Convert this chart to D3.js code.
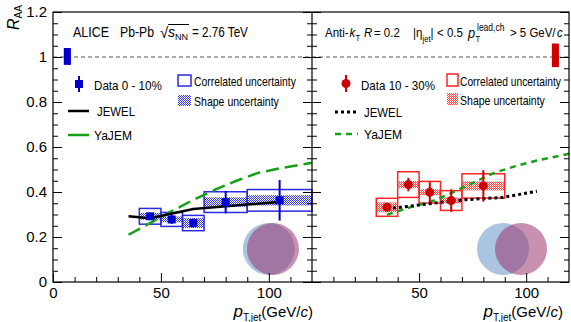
<!DOCTYPE html>
<html>
<head>
<meta charset="utf-8">
<script src="https://cdn.jsdelivr.net/npm/d3@7"></script>
<style>
  html, body { margin: 0; padding: 0; background: #fff; }
  svg { display: block; font-family: "Liberation Sans", Arial, Helvetica, sans-serif; }
</style>
</head>
<body>
<svg id="chart" width="571" height="322"></svg>
<script>
// ---- 0-10% centrality (blue) ----
const centralPt    = [45, 55, 65, 80, 105];
const centralLo    = [40, 50, 60, 70, 90];
const centralHi    = [50, 60, 70, 90, 120];
const centralRaa   = [0.292, 0.278, 0.262, 0.355, 0.363];
const centralStat  = [0.015, 0.02, 0.02, 0.05, 0.09];
const centralCorr  = [0.035, 0.031, 0.034, 0.046, 0.048];
const centralShape = [0.015, 0.013, 0.022, 0.021, 0.023];

// ---- 10-30% centrality (red) ----
const periPt    = [35, 45, 55, 65, 80];
const periLo    = [30, 40, 50, 60, 70];
const periHi    = [40, 50, 60, 70, 90];
const periRaa   = [0.332, 0.433, 0.399, 0.362, 0.427];
const periStat  = [0.01, 0.03, 0.045, 0.05, 0.07];
const periCorr  = [0.04, 0.057, 0.048, 0.044, 0.054];
const periShape = [0.022, 0.016, 0.013, 0.013, 0.02];

// ---- model curves ----
const jewelCentralX = [35, 45, 65, 106];
const jewelCentralY = [0.292, 0.283, 0.324, 0.357];
const yajemCentralX = [35, 45, 55, 65, 75, 85, 95, 105, 120];
const yajemCentralY = [0.21, 0.262, 0.315, 0.365, 0.41, 0.45, 0.485, 0.505, 0.53];
const jewelPeriX = [35, 45, 60, 72, 89, 105];
const jewelPeriY = [0.326, 0.336, 0.354, 0.366, 0.376, 0.403];
const yajemPeriX = [35, 45, 55, 65, 75, 85, 95, 105, 120];
const yajemPeriY = [0.299, 0.33, 0.355, 0.395, 0.44, 0.485, 0.515, 0.54, 0.57];

// ---- normalisation uncertainty boxes at R_AA = 1 ----
const normCentralX = [5, 8.3];
const normCentralY = [0.965, 1.04];
const normPeriX = [112, 115.3];
const normPeriY = [0.955, 1.06];

// ---- axis ticks ----
const yMajor = [0, 0.2, 0.4, 0.6, 0.8, 1.0, 1.2];
const yMinor = [0.05, 0.1, 0.15, 0.25, 0.3, 0.35, 0.45, 0.5, 0.55, 0.65, 0.7, 0.75, 0.85, 0.9, 0.95, 1.05, 1.1, 1.15];
const xMajorLeft = [0, 50, 100];
const xMajorRight = [50, 100];
const xMinor = [10, 20, 30, 40, 60, 70, 80, 90, 110];

// ---- nucleus overlap icons (centres in data units) ----
const iconCentralX = [100, 101.9];
const iconPeriX = [89.2, 97.6];
const iconY = 0.147;

const svg = d3.select("#chart");
const plotTop = 12, plotBottom = 282, xl0 = 53, xmid = 312, xr1 = 569;
const xL = d3.scaleLinear().domain([0, 120]).range([xl0, xmid]);
const xR = d3.scaleLinear().domain([0, 120]).range([xmid, xr1]);
const y = d3.scaleLinear().domain([0, 1.2]).range([plotBottom, plotTop]);

const BLUE = "#0000cc", BLUE_BOX = "#2a2ae0", BLUE_HATCH = "#3a3ad8";
const RED = "#cc0000", RED_BOX = "#ff2424", RED_HATCH = "#ff4a4a";
const GREEN = "#16a016";

// checkered fills for the shape uncertainty
const defs = svg.append("defs");
function checker(id, color) {
  const p = defs.append("pattern").attr("id", id).attr("patternUnits", "userSpaceOnUse")
    .attr("width", 2).attr("height", 2);
  p.append("rect").attr("width", 2).attr("height", 2).attr("fill", "#fff").attr("opacity", 0.35);
  p.append("rect").attr("x", 0).attr("y", 0).attr("width", 1).attr("height", 1).attr("fill", color);
  p.append("rect").attr("x", 1).attr("y", 1).attr("width", 1).attr("height", 1).attr("fill", color);
}
checker("hatchBlue", BLUE_HATCH);
checker("hatchRed", RED_HATCH);

// nucleus overlap icons
function icons(x, cx) {
  const g = svg.append("g");
  g.append("circle").attr("cx", x(cx[0])).attr("cy", y(iconY)).attr("r", 26)
    .attr("fill", "rgb(170,196,226)");
  g.append("circle").attr("cx", x(cx[1])).attr("cy", y(iconY)).attr("r", 26)
    .attr("fill", "rgb(155,55,109)").attr("fill-opacity", 0.55);
}
icons(xL, iconCentralX);
icons(xR, iconPeriX);

// reference line at R_AA = 1
svg.append("line").attr("x1", xl0).attr("x2", xr1).attr("y1", y(1)).attr("y2", y(1))
  .attr("stroke", "#555").attr("stroke-width", 1).attr("stroke-dasharray", "4,3");

// normalisation boxes
svg.append("rect").attr("x", xL(normCentralX[0])).attr("width", xL(normCentralX[1]) - xL(normCentralX[0]))
  .attr("y", y(normCentralY[1])).attr("height", y(normCentralY[0]) - y(normCentralY[1])).attr("fill", BLUE);
svg.append("rect").attr("x", xR(normPeriX[0])).attr("width", xR(normPeriX[1]) - xR(normPeriX[0]))
  .attr("y", y(normPeriY[1])).attr("height", y(normPeriY[0]) - y(normPeriY[1])).attr("fill", RED);

// uncertainty boxes
function drawData(x, lo, hi, raa, corr, shape, boxColor, hatch) {
  const idx = d3.range(raa.length);
  const g = svg.append("g");
  g.selectAll(".shape").data(idx).join("rect")
    .attr("x", i => x(lo[i])).attr("width", i => x(hi[i]) - x(lo[i]))
    .attr("y", i => y(raa[i] + shape[i])).attr("height", i => y(raa[i] - shape[i]) - y(raa[i] + shape[i]))
    .attr("fill", `url(#${hatch})`);
  g.selectAll(".corr").data(idx).join("rect")
    .attr("x", i => x(lo[i])).attr("width", i => x(hi[i]) - x(lo[i]))
    .attr("y", i => y(raa[i] + corr[i])).attr("height", i => y(raa[i] - corr[i]) - y(raa[i] + corr[i]))
    .attr("fill", "none").attr("stroke", boxColor).attr("stroke-width", 1.5);
}
// markers with statistical error bars
function drawMarkers(x, pt, raa, stat, color, square) {
  const idx = d3.range(pt.length);
  const g = svg.append("g");
  g.selectAll("line").data(idx).join("line")
    .attr("x1", i => x(pt[i])).attr("x2", i => x(pt[i]))
    .attr("y1", i => y(raa[i] + stat[i])).attr("y2", i => y(raa[i] - stat[i]))
    .attr("stroke", color).attr("stroke-width", 2);
  if (square) {
    g.selectAll("rect").data(idx).join("rect")
      .attr("x", i => x(pt[i]) - 4).attr("y", i => y(raa[i]) - 4)
      .attr("width", 8).attr("height", 8).attr("fill", color);
  } else {
    g.selectAll("circle").data(idx).join("circle")
      .attr("cx", i => x(pt[i])).attr("cy", i => y(raa[i])).attr("r", 4.5).attr("fill", color);
  }
}
function curve(x, xs, ys, color, width, dash) {
  const line = d3.line().x(d => x(d[0])).y(d => y(d[1]));
  svg.append("path").datum(xs.map((v, i) => [v, ys[i]])).attr("d", line)
    .attr("fill", "none").attr("stroke", color).attr("stroke-width", width)
    .attr("stroke-dasharray", dash);
}

drawData(xL, centralLo, centralHi, centralRaa, centralCorr, centralShape, BLUE_BOX, "hatchBlue");
drawData(xR, periLo, periHi, periRaa, periCorr, periShape, RED_BOX, "hatchRed");
curve(xL, yajemCentralX, yajemCentralY, GREEN, 2.5, "13,6");
curve(xL, jewelCentralX, jewelCentralY, "#000", 2.5, null);
curve(xR, yajemPeriX, yajemPeriY, GREEN, 2.5, "6,5");
curve(xR, jewelPeriX, jewelPeriY, "#000", 3, "3,3");
drawMarkers(xL, centralPt, centralRaa, centralStat, BLUE, true);
drawMarkers(xR, periPt, periRaa, periStat, RED, false);

// axes
function styleAxis(g) {
  g.select(".domain").remove();
  g.selectAll("line").attr("stroke", "#000").attr("stroke-width", 1);
  g.selectAll("text").attr("font-size", 15).attr("fill", "#000")
    .attr("font-family", "'Liberation Sans', Arial, sans-serif");
}
const yFmt = d => d === 0 ? "0" : (d === 1 ? "1" : d.toFixed(1));
function yAxes(xPos, side, labels) {
  const maj = (side === "left" ? d3.axisLeft(y) : d3.axisRight(y)).tickValues(yMajor).tickSize(-9)
    .tickPadding(6).tickFormat(labels ? yFmt : () => "");
  svg.append("g").attr("transform", `translate(${xPos},0)`).call(maj).call(styleAxis);
  const mnr = (side === "left" ? d3.axisLeft(y) : d3.axisRight(y)).tickValues(yMinor).tickSize(-5).tickFormat(() => "");
  svg.append("g").attr("transform", `translate(${xPos},0)`).call(mnr).call(styleAxis);
}
yAxes(xl0, "left", true);
yAxes(xmid, "right", false);
yAxes(xmid, "left", false);
yAxes(xr1, "right", false);

function xAxes(x, majors) {
  const maj = d3.axisBottom(x).tickValues(majors).tickSize(-9).tickPadding(5).tickFormat(d3.format("d"));
  svg.append("g").attr("transform", `translate(0,${plotBottom})`).call(maj).call(styleAxis);
  const mnr = d3.axisBottom(x).tickValues(xMinor).tickSize(-5).tickFormat(() => "");
  svg.append("g").attr("transform", `translate(0,${plotBottom})`).call(mnr).call(styleAxis);
}
xAxes(xL, xMajorLeft);
xAxes(xR, xMajorRight);

// frame
svg.append("rect").attr("x", xl0).attr("y", plotTop).attr("width", xr1 - xl0).attr("height", plotBottom - plotTop)
  .attr("fill", "none").attr("stroke", "#000").attr("stroke-width", 1.2);
svg.append("line").attr("x1", xmid).attr("x2", xmid).attr("y1", plotTop).attr("y2", plotBottom)
  .attr("stroke", "#000").attr("stroke-width", 1.2);

// text helper: condensed text squeezed horizontally to a given width
function txt(x, yy, s, o = {}) {
  const g = svg.append("g");
  const t = g.append("text").attr("x", 0).attr("y", 0).text(s)
    .attr("font-size", o.size || 13).attr("fill", "#000");
  if (o.italic) t.attr("font-style", "italic");
  let sx = 1;
  if (o.w) sx = o.w / t.node().getComputedTextLength();
  g.attr("transform", `translate(${x},${yy}) scale(${sx},1)`);
  return t;
}

// axis titles
const ytitle = svg.append("text").attr("transform", "translate(19,30) rotate(-90)").attr("font-size", 16);
ytitle.append("tspan").attr("font-style", "italic").text("R");
ytitle.append("tspan").attr("font-size", 10).attr("dy", 3).text("AA");

function xTitle(xEnd) {
  const t = svg.append("text").attr("x", xEnd).attr("y", 317).attr("text-anchor", "end").attr("font-size", 15);
  t.append("tspan").attr("font-style", "italic").attr("font-size", 17).text("p");
  t.append("tspan").attr("font-size", 10).attr("dy", 4).text("T,jet");
  t.append("tspan").attr("dy", -4).text("(GeV/");
  t.append("tspan").attr("font-style", "italic").text("c");
  t.append("tspan").text(")");
}
xTitle(313);
xTitle(563);

// header, left panel
txt(73, 37, "ALICE", { size: 14, w: 36 });
txt(120, 37, "Pb-Pb", { size: 14, w: 34 });
txt(160, 38, "\u221A", { size: 15 });
svg.append("line").attr("x1", 168).attr("x2", 189).attr("y1", 24.5).attr("y2", 24.5).attr("stroke", "#000").attr("stroke-width", 1);
txt(168, 37, "s", { size: 14, italic: true });
txt(175, 40, "NN", { size: 9, w: 13 });
txt(192, 37, "= 2.76 TeV", { size: 14, w: 56 });

// header, right panel: one condensed text line, pieces placed at absolute positions
const SX = 0.85, hx0 = 325;
const hdr = svg.append("g").attr("transform", `translate(${hx0},0) scale(${SX},1)`)
  .append("text").attr("font-size", 13.5).attr("fill", "#000");
const pieces = [
  { x: 325, y: 37, s: "Anti-" },
  { x: 349.5, y: 37, s: "k", it: true },
  { x: 355.5, y: 41, s: "T", size: 9 },
  { x: 364, y: 37, s: "R", it: true },
  { x: 374, y: 37, s: "= 0.2" },
  { x: 413, y: 37, s: "|" },
  { x: 416, y: 37, s: "\u03B7" },
  { x: 422.5, y: 42, s: "jet", size: 9 },
  { x: 430.5, y: 37, s: "|" },
  { x: 437, y: 37, s: "< 0.5" },
  { x: 468, y: 38, s: "p", it: true, size: 15 },
  { x: 475.5, y: 42, s: "T", size: 9 },
  { x: 477, y: 31, s: "lead,ch", size: 10 },
  { x: 510, y: 37, s: "> 5 GeV/" },
  { x: 557, y: 37, s: "c", it: true }
];
pieces.forEach(p => {
  const t = hdr.append("tspan").attr("x", (p.x - hx0) / SX).attr("y", p.y).text(p.s);
  if (p.it) t.attr("font-style", "italic");
  if (p.size) t.attr("font-size", p.size);
});

// legend, left panel
svg.append("line").attr("x1", 79).attr("x2", 79).attr("y1", 76).attr("y2", 92).attr("stroke", BLUE).attr("stroke-width", 2);
svg.append("rect").attr("x", 75).attr("y", 80).attr("width", 8).attr("height", 8).attr("fill", BLUE);
txt(94, 90, "Data 0 - 10%", { size: 13, w: 68 });
svg.append("rect").attr("x", 178).attr("y", 75).attr("width", 13).attr("height", 11)
  .attr("fill", "none").attr("stroke", BLUE_BOX).attr("stroke-width", 1.5);
txt(194, 86, "Correlated uncertainty", { size: 12, w: 102 });
svg.append("rect").attr("x", 178).attr("y", 95).attr("width", 13).attr("height", 11).attr("fill", "url(#hatchBlue)");
txt(194, 106, "Shape uncertainty", { size: 12, w: 85 });
svg.append("line").attr("x1", 68).attr("x2", 89).attr("y1", 111).attr("y2", 111).attr("stroke", "#000").attr("stroke-width", 2.5);
txt(97, 116, "JEWEL", { size: 13, w: 38 });
svg.append("line").attr("x1", 68).attr("x2", 89).attr("y1", 135).attr("y2", 135).attr("stroke", GREEN).attr("stroke-width", 2.5);
txt(94, 140, "YaJEM", { size: 13, w: 38 });

// legend, right panel
svg.append("line").attr("x1", 346).attr("x2", 346).attr("y1", 75).attr("y2", 92).attr("stroke", RED).attr("stroke-width", 2);
svg.append("circle").attr("cx", 346).attr("cy", 83.5).attr("r", 4.5).attr("fill", RED);
txt(361, 90, "Data 10 - 30%", { size: 13, w: 74 });
svg.append("rect").attr("x", 447).attr("y", 74).attr("width", 11).attr("height", 12)
  .attr("fill", "none").attr("stroke", RED_BOX).attr("stroke-width", 1.5);
txt(460, 86, "Correlated uncertainty", { size: 12, w: 101 });
svg.append("rect").attr("x", 447).attr("y", 93).attr("width", 11).attr("height", 12).attr("fill", "url(#hatchRed)");
txt(460, 105, "Shape uncertainty", { size: 12, w: 85 });
svg.append("line").attr("x1", 335).attr("x2", 358).attr("y1", 112).attr("y2", 112).attr("stroke", "#000")
  .attr("stroke-width", 3).attr("stroke-dasharray", "3,3");
txt(364, 117, "JEWEL", { size: 13, w: 38 });
svg.append("line").attr("x1", 335).attr("x2", 358).attr("y1", 134).attr("y2", 134).attr("stroke", GREEN)
  .attr("stroke-width", 2.5).attr("stroke-dasharray", "6,5");
txt(364, 139, "YaJEM", { size: 13, w: 38 });
</script>
</body>
</html>
